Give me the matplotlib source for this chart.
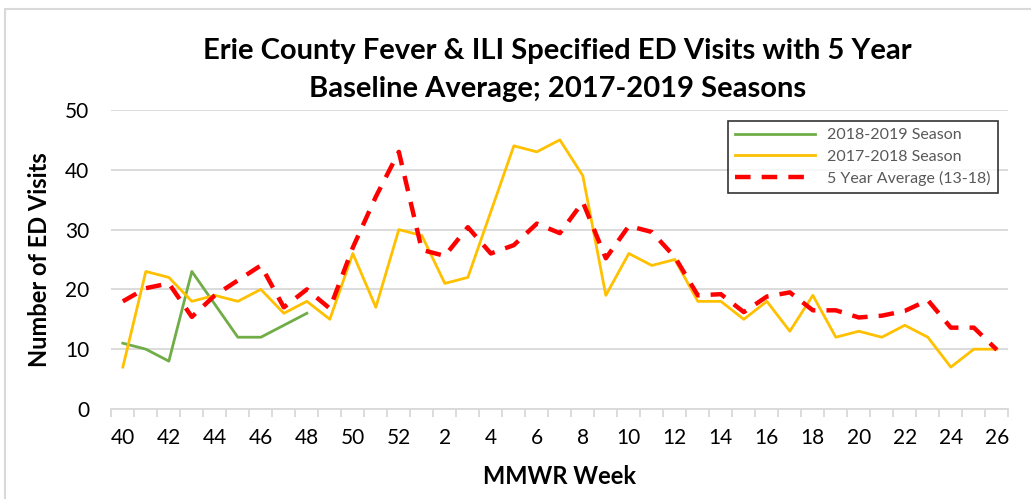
import matplotlib.pyplot as plt
from matplotlib.patches import Rectangle

weeks = [40, 41, 42, 43, 44, 45, 46, 47, 48, 49, 50, 51, 52] + list(range(1, 27))

season_1819 = [11, 10, 8, 23, 17.5, 12, 12, 14, 16]

season_1718 = [7, 23, 22, 18, 19, 18, 20, 16, 18, 15, 26, 17, 30,
               29, 21, 22, 33, 44, 43, 45, 39, 19, 26, 24, 25, 18,
               18, 15, 18, 13, 19, 12, 13, 12, 14, 12, 7, 10, 10]

avg_5yr = [18, 20.2, 21, 15.4, 19, 21.5, 24, 17, 20, 16.8, 27, 35.5, 43,
           26.6, 25.6, 30.4, 26, 27.4, 31, 29.4, 34.6, 25.2, 30.6, 29.6, 25.4, 19,
           19.2, 16.2, 18.8, 19.5, 16.5, 16.5, 15.3, 15.6, 16.4, 18.2, 13.6, 13.6, 9.9]

font = ['Lato', 'DejaVu Sans']
plt.rcParams['font.family'] = font

fig = plt.figure(figsize=(10.31, 4.99), dpi=100)
ax = fig.add_axes([0.108, 0.1804, 0.870, 0.5992])

x = list(range(len(weeks)))
ax.plot(x[:len(season_1819)], season_1819, color='#70AD47', lw=2.0, label='2018-2019 Season')
ax.plot(x, season_1718, color='#FFC000', lw=2.0, label='2017-2018 Season')
ax.plot(x, avg_5yr, color='#FF0000', lw=3.2, dashes=(3.5, 2.5), label='5 Year Average (13-18)')

ax.set_xlim(-0.5, len(weeks) - 0.5)
ax.set_ylim(0, 50)
ax.set_yticks(range(0, 51, 10))
ax.yaxis.grid(True, color='#d9d9d9', lw=1.3)
ax.set_axisbelow(True)
for s in ['left', 'right', 'top']:
    ax.spines[s].set_visible(False)
ax.spines['bottom'].set_color('#d9d9d9')
ax.spines['bottom'].set_linewidth(1.3)

ax.set_xticks(x[::2])
ax.set_xticklabels([str(w) for w in weeks[::2]])
ax.set_xticks([i - 0.5 for i in range(len(weeks) + 1)], minor=True)
ax.tick_params(axis='x', which='major', length=0, pad=14, labelsize=15)
ax.tick_params(axis='x', which='minor', length=6, color='#d9d9d9', width=1.3)
ax.tick_params(axis='y', length=0, pad=16, labelsize=15)

ax.set_xlabel('MMWR Week', fontsize=17, fontweight='bold', labelpad=12)
ax.set_ylabel('Number of ED Visits', fontsize=17, fontweight='bold', labelpad=10)

fig.text(0.541, 0.897, 'Erie County Fever & ILI Specified ED Visits with 5 Year',
         ha='center', va='center', fontsize=21, fontweight='bold')
fig.text(0.541, 0.822, 'Baseline Average; 2017-2019 Seasons',
         ha='center', va='center', fontsize=21, fontweight='bold')

leg = ax.legend(loc='upper right', bbox_to_anchor=(0.9975, 0.99), fontsize=11.5,
                frameon=True, fancybox=False, edgecolor='black', handlelength=5,
                labelcolor='#595959', borderpad=0.45, labelspacing=0.45)
leg.get_frame().set_linewidth(1.2)

fig.patches.append(Rectangle((5 / 1031, -0.01), 1.02, 1 - 9 / 499 + 0.01,
                             transform=fig.transFigure, fill=False,
                             edgecolor='#d9d9d9', lw=1.5))

fig.savefig('out.png', dpi=100)
